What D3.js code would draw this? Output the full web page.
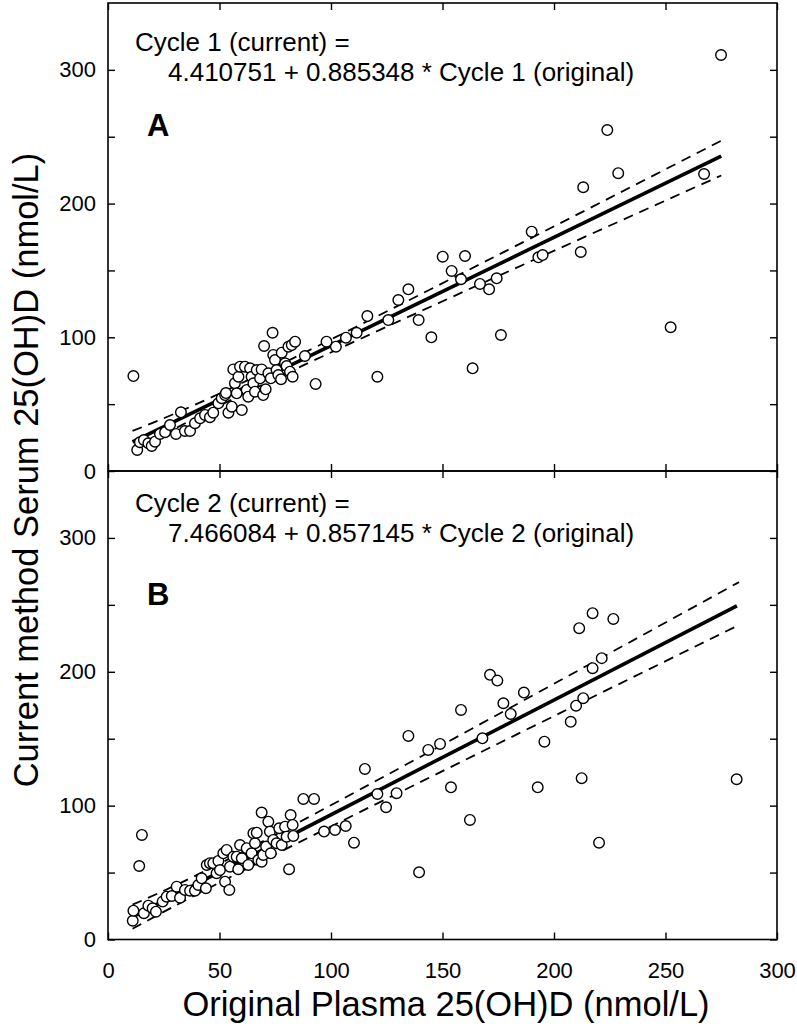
<!DOCTYPE html>
<html><head><meta charset="utf-8">
<script src="https://cdnjs.cloudflare.com/ajax/libs/d3/7.8.5/d3.min.js"></script>
<style>body{margin:0;background:#fff}svg{display:block}text{font-family:"Liberation Sans",Arial,Helvetica,sans-serif}</style>
</head><body>
<svg id="chart" width="797" height="1033"></svg>
<script>
// ---- data ----
const xTicks = [0, 50, 100, 150, 200, 250, 300];
const yTicks = [0, 50, 100, 150, 200, 250, 300];
const yLabelTicks = [0, 100, 200, 300];

const cycle1Original = [11.4,13.1,14.3,16.1,18.1,19.6,21.1,23.3,25.6,27.8,30.5,32.7,34.5,36.8,39,41.3,43.5,45.7,47.2,49.5,51,52.5,54,52.9,55.5,56.2,56.9,58.5,57.7,59.2,60,61.4,62.2,62.9,63.7,64.4,65.2,65.9,66.7,68.2,68.9,69.6,70,70.7,71.9,73,73.8,74.1,74.9,75.6,76.4,77.6,77.9,79.4,80.1,80.9,81.6,82.4,82.8,83.9,88.3,93.1,98,102.2,106.7,111.5,116.3,120.8,125.7,130.2,134.7,139.3,145,150.1,154.1,158.3,160.1,163.5,166.8,170.9,174.3,176.2,190,193,194.9,212,252.3,274.9,223.9,228.8,213.1,267.3];
const cycle1Current = [71,15.7,21.5,23.2,20.7,18.7,21.9,27.7,29,34.4,27.7,43.9,29.9,29.9,35.7,39.4,41.9,40.2,43.6,50.6,54.4,56.8,43.6,58.3,48.1,76,65.6,70.5,58.1,78,45.6,78,60.6,55.6,76.8,70.5,65.6,59.3,75.5,69.3,76,56.8,93.5,61.1,73.1,69.3,103.4,86.8,83,75.5,71.8,68.6,88.5,80.6,78.5,93,74.3,94.2,70.5,96.7,86,65.1,96.7,93,99.7,103.4,115.9,70.5,112.9,127.9,135.9,112.9,100,160.3,149.6,143.4,160.8,76.8,139.9,135.9,144.1,101.7,179,159.8,161.5,163.8,107.5,311.1,255,222.7,212.2,222.1];

const cycle2Original = [11.1,11.4,14,15.2,16.1,18.1,20,21.5,24.5,26.3,28.6,30.8,32.3,34.5,36.8,39,40.5,42,43.9,44.3,45.7,47.2,48.7,49.5,50.2,51.7,52.5,53.2,54.4,54.7,56.2,57.7,58.4,59.2,60,62.2,62.9,64.4,65.2,65.9,66.7,67.4,68.9,68.9,69.6,70.9,71.9,72.6,73,74.1,75.6,76.8,77.9,79.4,80.1,81.2,81.9,82.8,83.1,87.6,92.4,96.9,101.8,106.6,110.3,115.2,120.8,124.7,129.4,134.7,139.5,143.6,148.9,153.8,158.3,162.3,167.9,177.3,180.6,192.7,195.7,207.5,209.9,212.4,220.2,281.9,211.3,217.3,226.6,221.4,217.3,213.1,186.5,171.3,174.6];
const cycle2Current = [14,21.5,54.9,78.1,19.6,25.3,23.3,20.8,28.3,32,32.5,39.5,31.2,37,36.5,36.5,40.7,45.7,38.3,55.7,57,57,49.5,58.7,51.9,64.4,43.2,66.9,37,54.4,61.9,61.9,52.5,70.6,60.7,68.2,55.7,64.4,79.4,71.9,79.8,59.4,94.8,58.1,63.2,69.4,88,80.6,64.4,74.4,71.9,83.1,70.6,84.3,76.8,52.5,93,85.6,77.4,105,105,80.6,81.8,84.8,72.3,127.4,108.7,98.8,109.3,152.1,50.2,141.6,146.1,113.7,171.5,89.3,150.3,176.5,168.5,113.7,147.8,162.6,174.7,120.5,72.3,119.7,232.6,243.8,239.5,210.2,202.7,180.3,184.5,197.7,193.4];

// regression line and confidence band (x, y)
const fit1X = [11, 275], fit1Y = [21.7, 235.5];
const upper1X = [11, 85, 275], upper1Y = [30, 86, 247];
const lower1X = [11, 85, 275], lower1Y = [14, 77, 221];
const fit2X = [11, 282], fit2Y = [16.9, 249.2];
const upper2X = [11, 85, 283], upper2Y = [26, 87, 267];
const lower2X = [11, 85, 283], lower2Y = [8, 72, 235];

const eq1 = ["Cycle 1 (current) =", "4.410751 + 0.885348 * Cycle 1 (original)"];
const eq2 = ["Cycle 2 (current) =", "7.466084 + 0.857145 * Cycle 2 (original)"];

// ---- drawing ----
const svg = d3.select("#chart");
const L = 108, R = 777;
const x = d3.scaleLinear().domain([0, 300]).range([L, R]);
const yTop = d3.scaleLinear().domain([0, 350]).range([471, 3]);
const yBot = d3.scaleLinear().domain([0, 350]).range([939.5, 471]);

function zip(a, b) { return a.map((v, i) => [v, b[i]]); }

function panel(y, xs, ys, fx, fy, ux, uy, lx, ly, eq, letter, showX, eqBase, letterBase) {
  const g = svg.append("g");
  const line = d3.line().x(d => x(d[0])).y(d => y(d[1]));
  const curve = d3.line().x(d => x(d[0])).y(d => y(d[1])).curve(d3.curveNatural);

  g.append("path").attr("d", curve(zip(ux, uy))).attr("fill", "none").attr("stroke", "#000")
    .attr("stroke-width", 1.8).attr("stroke-dasharray", "10,7");
  g.append("path").attr("d", curve(zip(lx, ly))).attr("fill", "none").attr("stroke", "#000")
    .attr("stroke-width", 1.8).attr("stroke-dasharray", "10,7");
  g.append("path").attr("d", line(zip(fx, fy))).attr("fill", "none").attr("stroke", "#000")
    .attr("stroke-width", 3.6);

  g.selectAll("circle.pt").data(zip(xs, ys)).join("circle").attr("class", "pt")
    .attr("cx", d => x(d[0])).attr("cy", d => y(d[1])).attr("r", 5.3)
    .attr("fill", "#fff").attr("stroke", "#000").attr("stroke-width", 1.4);

  // ticks
  const left = g.append("g").attr("transform", `translate(${L},0)`)
    .call(d3.axisLeft(y).tickValues(yTicks).tickSize(-7).tickPadding(12)
      .tickFormat(d => yLabelTicks.includes(d) ? d : ""));
  const right = g.append("g").attr("transform", `translate(${R},0)`)
    .call(d3.axisRight(y).tickValues(yTicks).tickSize(-7).tickFormat(""));
  const top = g.append("g").attr("transform", `translate(0,${y(350)})`)
    .call(d3.axisTop(x).tickValues(xTicks).tickSize(-7).tickFormat(""));
  const bot = g.append("g").attr("transform", `translate(0,${y(0)})`)
    .call(d3.axisBottom(x).tickValues(xTicks).tickSize(-7).tickPadding(23)
      .tickFormat(d => showX ? d : ""));
  [left, right, top, bot].forEach(a => {
    a.select(".domain").remove();
    a.selectAll("line").attr("stroke", "#000").attr("stroke-width", 1.4);
    a.selectAll("text").attr("fill", "#000").style("font-size", "22px")
      .style("font-family", '"Liberation Sans", Arial, sans-serif');
  });

  g.append("rect").attr("x", L).attr("y", y(350)).attr("width", R - L).attr("height", y(0) - y(350))
    .attr("fill", "none").attr("stroke", "#000").attr("stroke-width", 1.6);

  g.append("text").attr("x", 135).attr("y", eqBase).style("font-size", "26px").text(eq[0]);
  g.append("text").attr("x", 168).attr("y", eqBase + 30).style("font-size", "26px").text(eq[1]);
  g.append("text").attr("x", 147).attr("y", letterBase).style("font-size", "31px")
    .style("font-weight", "bold").text(letter);
}

panel(yTop, cycle1Original, cycle1Current, fit1X, fit1Y, upper1X, upper1Y, lower1X, lower1Y, eq1, "A", false, 51, 136);
panel(yBot, cycle2Original, cycle2Current, fit2X, fit2Y, upper2X, upper2Y, lower2X, lower2Y, eq2, "B", true, 512, 605);

svg.append("text").attr("x", 446).attr("y", 1016).attr("text-anchor", "middle")
  .style("font-size", "34.5px").text("Original Plasma 25(OH)D (nmol/L)");
svg.append("text").attr("transform", "translate(38,470) rotate(-90)").attr("text-anchor", "middle")
  .style("font-size", "34.5px").text("Current method Serum 25(OH)D (nmol/L)");
</script>
</body></html>
